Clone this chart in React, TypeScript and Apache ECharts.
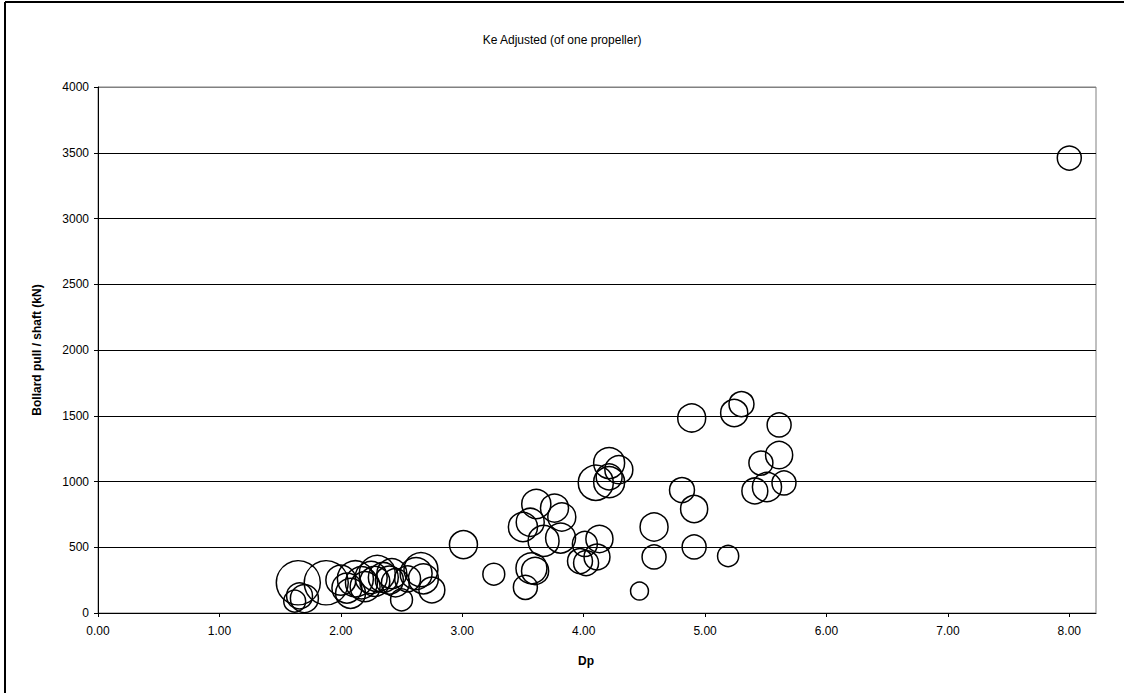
import React, { useEffect, useRef } from "react";
import * as echarts from "echarts";

// Propeller diameter (m)
const dp = [
  1.62, 1.66, 1.7, 1.65, 1.88, 2.0, 2.05, 2.08, 2.12, 2.17, 2.2, 2.25, 2.28, 2.3, 2.35, 2.4,
  2.42, 2.45, 2.5, 2.55, 2.62, 2.66, 2.68, 2.75, 3.01, 3.26, 3.52, 3.57, 3.6, 3.5, 3.56, 3.61,
  3.76, 3.82, 3.67, 3.81, 4.01, 4.13, 3.97, 4.02, 4.11, 4.1, 4.21, 4.29, 4.21, 4.21, 4.46, 4.58,
  4.58, 4.81, 4.91, 4.89, 4.91, 5.19, 5.24, 5.3, 5.61, 5.61, 5.46, 5.65, 5.51, 5.41, 8.0,
];
// Bollard pull per shaft (kN)
const pull = [
  90, 130, 110, 230, 230, 250, 190, 150, 260, 230, 200, 270, 240, 300, 270, 250,
  300, 230, 100, 260, 300, 330, 260, 175, 520, 295, 195, 340, 320, 654, 690, 829,
  798, 730, 548, 570, 525, 563, 395, 380, 426, 990, 1140, 1090, 995, 1035, 167, 654,
  426, 935, 791, 1483, 502, 433, 1521, 1589, 1430, 1201, 1140, 989, 958, 928, 3460,
];
// Bubble size variable (Ke)
const ke = [
  30, 42, 49, 121, 121, 56, 56, 56, 81, 64, 56, 64, 56, 81, 56, 49,
  56, 49, 30, 42, 64, 72, 56, 42, 49, 30, 36, 60, 46, 53, 49, 53,
  49, 49, 60, 56, 39, 46, 39, 39, 42, 77, 60, 49, 60, 42, 20, 49,
  36, 39, 46, 49, 36, 28, 46, 39, 36, 46, 36, 36, 53, 42, 36,
];

const xTicks = [0, 1, 2, 3, 4, 5, 6, 7, 8];
const yTicks = [0, 500, 1000, 1500, 2000, 2500, 3000, 3500, 4000];

const FONT = "Arial, 'Liberation Sans', sans-serif";

export default function App() {
  const ref = useRef<HTMLDivElement>(null);

  useEffect(() => {
    document.body.style.margin = "0";
    if (!ref.current) return;
    const chart = echarts.init(ref.current, undefined, { renderer: "svg" });
    const data = dp.map((x, i) => [x, pull[i], ke[i]]);
    chart.setOption({
      animation: false,
      backgroundColor: "#ffffff",
      grid: {
        left: 98,
        right: 28,
        top: 87,
        bottom: 80,
        show: true,
        borderColor: "#808080",
        borderWidth: 1,
        backgroundColor: "transparent",
      },
      xAxis: {
        type: "value",
        min: 0,
        max: 8.22,
        interval: 1,
        axisLine: { show: true, onZero: false, lineStyle: { color: "#000", width: 1 } },
        axisTick: {
          show: true,
          length: 4,
          customValues: xTicks,
          lineStyle: { color: "#000" },
        },
        axisLabel: {
          customValues: xTicks,
          formatter: (v: number) => v.toFixed(2),
          color: "#000",
          fontFamily: FONT,
          fontSize: 12,
          margin: 12,
        },
        splitLine: { show: false },
      },
      yAxis: {
        type: "value",
        min: 0,
        max: 4000,
        interval: 500,
        axisLine: { show: true, lineStyle: { color: "#000", width: 1 } },
        axisTick: { show: true, length: 4, lineStyle: { color: "#000" } },
        axisLabel: {
          formatter: (v: number) => String(v),
          color: "#000",
          fontFamily: FONT,
          fontSize: 12,
          margin: 9,
        },
        splitLine: {
          show: true,
          lineStyle: {
            color: yTicks.map((t) => (t === 4000 ? "#808080" : "#000")),
            width: 1,
          },
        },
      },
      series: [
        {
          type: "scatter",
          data,
          symbol: "circle",
          symbolSize: (v: number[]) => 4 * Math.sqrt(v[2]),
          itemStyle: {
            color: "rgba(255,255,255,0)",
            borderColor: "#000",
            borderWidth: 1.5,
            opacity: 1,
          },
          emphasis: { disabled: true },
        },
      ],
      graphic: [
        {
          type: "line",
          shape: { x1: 5, y1: 2, x2: 1124, y2: 2 },
          style: { stroke: "#000", lineWidth: 2 },
        },
        {
          type: "line",
          shape: { x1: 5, y1: 2, x2: 5, y2: 693 },
          style: { stroke: "#000", lineWidth: 2 },
        },
        {
          type: "text",
          x: 562,
          y: 40,
          style: {
            text: "Ke Adjusted (of one propeller)",
            fill: "#000",
            font: `12px ${FONT}`,
            textAlign: "center",
            textVerticalAlign: "middle",
          },
        },
        {
          type: "text",
          x: 586,
          y: 661,
          style: {
            text: "Dp",
            fill: "#000",
            font: `bold 12px ${FONT}`,
            textAlign: "center",
            textVerticalAlign: "middle",
          },
        },
        {
          type: "text",
          x: 37,
          y: 350,
          rotation: Math.PI / 2,
          style: {
            text: "Bollard pull / shaft (kN)",
            fill: "#000",
            font: `bold 12px ${FONT}`,
            textAlign: "center",
            textVerticalAlign: "middle",
          },
        },
      ],
    });
    return () => chart.dispose();
  }, []);

  return <div ref={ref} style={{ width: 1124, height: 693 }} />;
}
